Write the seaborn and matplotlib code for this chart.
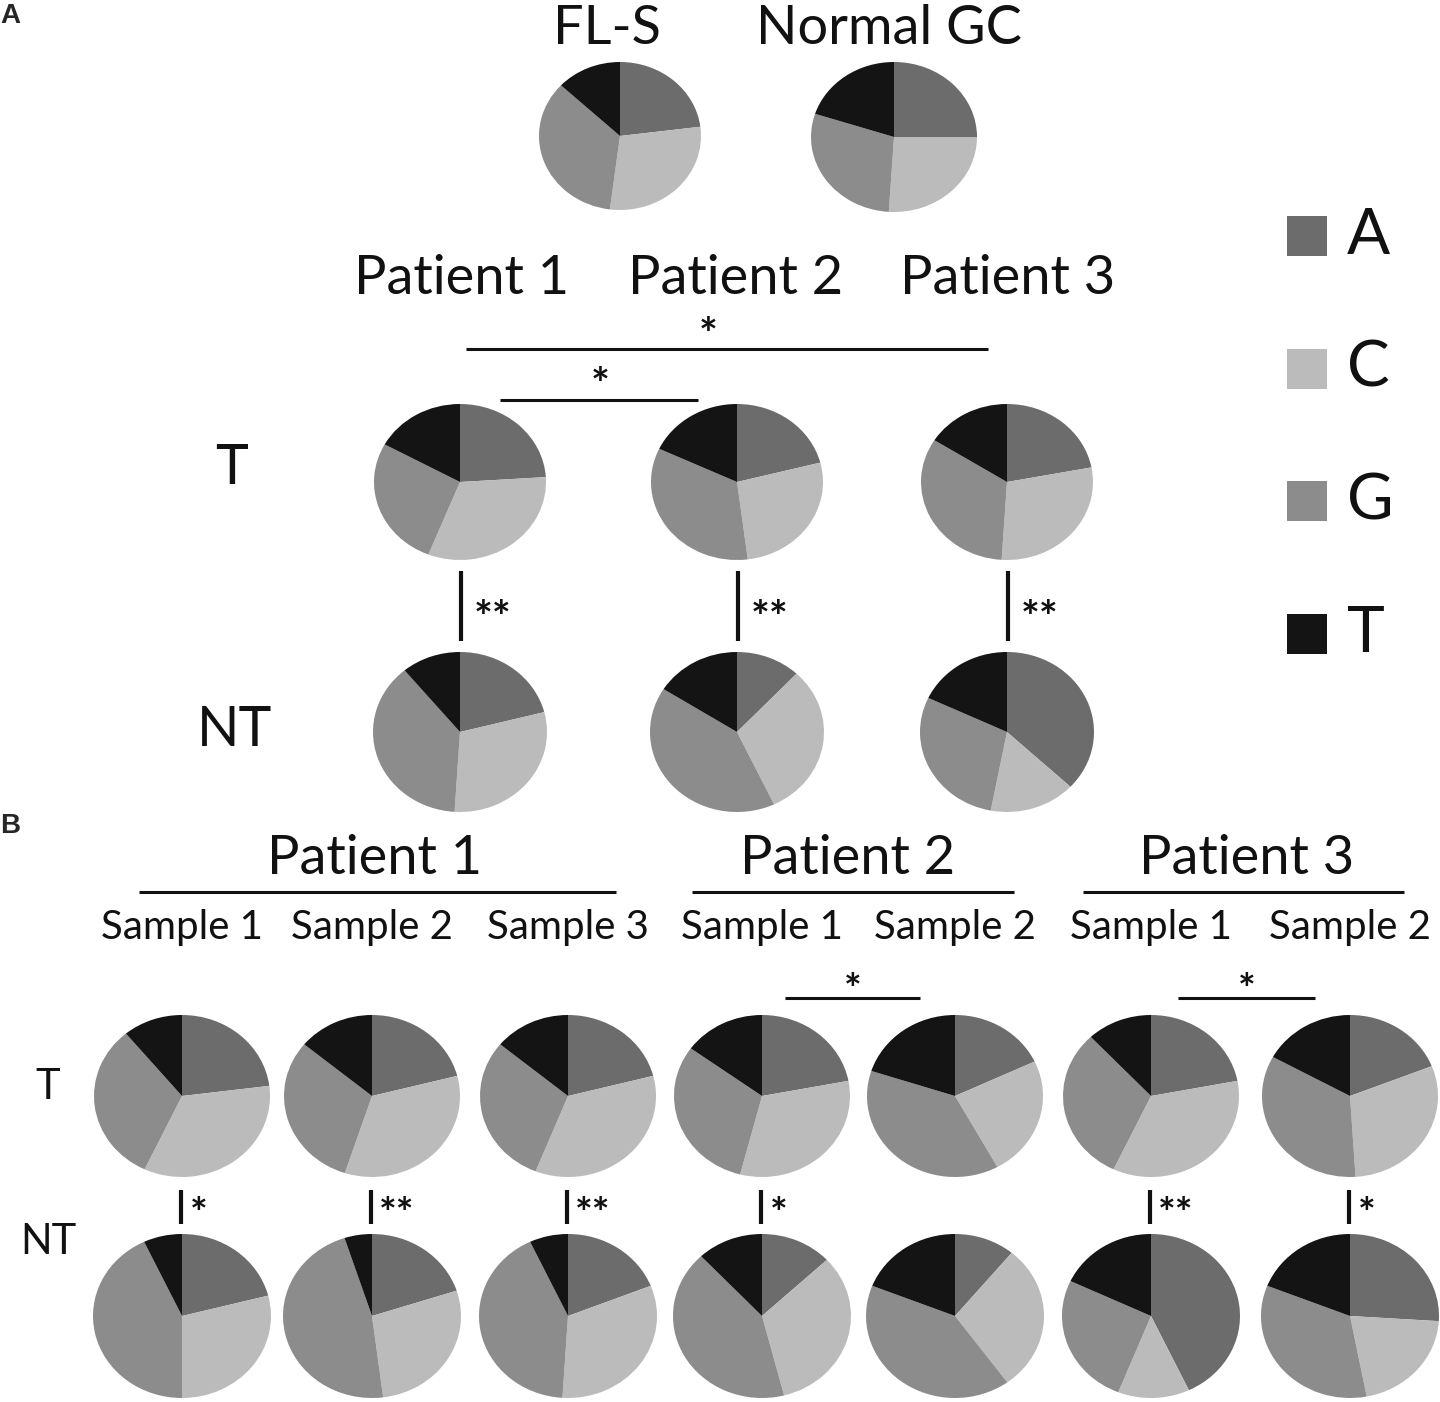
import matplotlib
matplotlib.use("Agg")
import matplotlib.pyplot as plt
import seaborn as sns

# ---------------- data ----------------
bases = ["A", "C", "G", "T"]
base_colors = ["#6b6c6b", "#bbbbbb", "#8b8c8b", "#141414"]

top_labels = ["FL-S", "Normal GC"]
fls = [0.23, 0.29, 0.35, 0.13]
normal_gc = [0.25, 0.26, 0.29, 0.20]

patients = ["Patient 1", "Patient 2", "Patient 3"]
row_labels = ["T", "NT"]
a_tumor_p1 = [0.24, 0.32, 0.27, 0.17]
a_tumor_p2 = [0.21, 0.27, 0.34, 0.18]
a_tumor_p3 = [0.22, 0.29, 0.33, 0.16]
a_normal_p1 = [0.21, 0.30, 0.38, 0.11]
a_normal_p2 = [0.12, 0.31, 0.41, 0.16]
a_normal_p3 = [0.37, 0.16, 0.29, 0.18]
a_sig = ["**", "**", "**"]

sample_labels = ["Sample 1", "Sample 2", "Sample 3", "Sample 1", "Sample 2", "Sample 1", "Sample 2"]
b_tumor = [
    [0.23, 0.34, 0.32, 0.11],
    [0.21, 0.34, 0.31, 0.14],
    [0.21, 0.35, 0.30, 0.14],
    [0.22, 0.32, 0.31, 0.15],
    [0.18, 0.24, 0.38, 0.20],
    [0.22, 0.35, 0.31, 0.12],
    [0.19, 0.30, 0.34, 0.17],
]
b_normal = [
    [0.21, 0.29, 0.43, 0.07],
    [0.20, 0.28, 0.47, 0.05],
    [0.19, 0.32, 0.42, 0.07],
    [0.13, 0.33, 0.42, 0.12],
    [0.11, 0.29, 0.41, 0.19],
    [0.43, 0.13, 0.26, 0.18],
    [0.26, 0.21, 0.34, 0.19],
]
b_sig = ["*", "**", "**", "*", "", "**", "*"]

# ---------------- style ----------------
sns.set_theme(style="white")
plt.rcParams['font.family'] = ['Lato', 'DejaVu Sans']

W, H = 1440, 1402
fig = plt.figure(figsize=(W / 100, H / 100), dpi=100)
bg = fig.add_axes([0, 0, 1, 1])
bg.set_xlim(0, W)
bg.set_ylim(H, 0)
bg.axis('off')


def draw_pie(values, cx, cy, a, b):
    ax = fig.add_axes([(cx - a) / W, 1 - (cy + b) / H, 2 * a / W, 2 * b / H])
    ax.pie(values, colors=base_colors, startangle=90, counterclock=False,
           wedgeprops=dict(linewidth=0, clip_on=False))
    ax.set_aspect('auto')
    ax.set_xlim(-1, 1)
    ax.set_ylim(-1, 1)
    ax.axis('off')


def txt(x, y, s, size, **kw):
    bg.text(x, y, s, ha='center', va='center', fontsize=size, color='#111111', **kw)


def hline(x0, x1, y, lw=2.2):
    bg.plot([x0, x1], [y, y], color='#111111', lw=lw, solid_capstyle='butt')


def vline(x, y0, y1, lw=3):
    bg.plot([x, x], [y0, y1], color='#111111', lw=lw, solid_capstyle='butt')


def star(x, y, s, size):
    bg.text(x, y, s, ha='center', va='center', fontsize=size, fontweight='bold', color='#111111')


# panel letters
bg.text(0, 16, "A", fontsize=20, fontweight='bold', family='Liberation Sans', va='center', ha='left')
bg.text(0, 826, "B", fontsize=20, fontweight='bold', family='Liberation Sans', va='center', ha='left')

# ---- Panel A top ----
txt(607, 28, top_labels[0], 39)
txt(889, 28, top_labels[1], 39)
draw_pie(fls, 620, 136, 81, 74)
draw_pie(normal_gc, 894, 137, 83, 75)

# legend
for i, (lab, col) in enumerate(zip(bases, base_colors)):
    yc = 236 + i * 132.5
    bg.add_patch(plt.Rectangle((1287, yc - 20), 40, 40, color=col, lw=0))
    bg.text(1347, yc, lab, ha='left', va='center', fontsize=46, color='#111111')

# ---- Panel A patients ----
ax_x = [462, 736, 1008]
for x, p in zip(ax_x, patients):
    txt(x, 278, p, 39)
hline(466, 988, 349)
star(708, 336, "*", 32)
hline(500, 698, 400)
star(600, 386, "*", 32)

txt(232, 468, row_labels[0], 40)
txt(234, 730, row_labels[1], 40)

a_tumor = [a_tumor_p1, a_tumor_p2, a_tumor_p3]
a_normal = [a_normal_p1, a_normal_p2, a_normal_p3]
pie_ax = [460, 737, 1007]
for i in range(3):
    draw_pie(a_tumor[i], pie_ax[i], 482, 86, 78)
    draw_pie(a_normal[i], pie_ax[i], 732, 87, 80)
    vline(pie_ax[i] + 1, 571, 641)
    star(pie_ax[i] + 33, 619, a_sig[i], 32)

# ---- Panel B ----
bx = [182, 372, 568, 762, 955, 1151, 1350]
groups = [(0, 3), (3, 5), (5, 7)]
group_lines = [(139, 616), (692, 1014), (1083, 1404)]
group_centers = [375, 848, 1247]
for (s0, s1), (l0, l1), gc, p in zip(groups, group_lines, group_centers, patients):
    txt(gc, 858, p, 39)
    hline(l0, l1, 892)
for x, s in zip(bx, sample_labels):
    txt(x, 928, s, 29)

hline(785, 920, 998)
star(853, 992, "*", 30)
hline(1178, 1315, 998)
star(1247, 992, "*", 30)

txt(48, 1087, row_labels[0], 30)
txt(48, 1242, row_labels[1], 30)

for i in range(7):
    draw_pie(b_tumor[i], bx[i], 1096, 88, 81)
    draw_pie(b_normal[i], bx[i], 1316, 89, 82)
    if b_sig[i]:
        vline(bx[i] - 1, 1190, 1224)
        off = 17 if len(b_sig[i]) == 1 else 25
        star(bx[i] + off, 1216, b_sig[i], 30)

fig.savefig("out.png", dpi=100)
